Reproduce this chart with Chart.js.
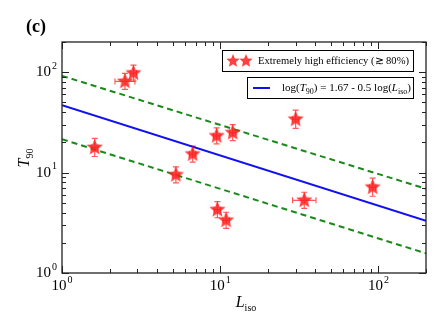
<!DOCTYPE html>
<html><head><meta charset="utf-8">
<script src="https://cdn.jsdelivr.net/npm/chart.js@4/dist/chart.umd.min.js"></script>
<style>html,body{margin:0;padding:0;background:#fff;}canvas{display:block;}</style>
</head><body>
<canvas id="c" width="443" height="332"></canvas>
<script>
// ---- data ----
const L_iso = [1.61, 2.5, 2.83, 5.25, 6.7, 9.5, 12.0, 9.6, 10.9, 30.0, 34.0, 92.0];
const T90   = [17.8, 81, 98, 9.5, 15.3, 23.2, 25.0, 4.27, 3.35, 34, 5.3, 7.15];
const T90_errDex = [0.09, 0.08, 0.08, 0.08, 0.08, 0.08, 0.08, 0.08, 0.08, 0.09, 0.08, 0.09];
const L_errDex   = [0.02, 0.063, 0.02, 0.02, 0.02, 0.02, 0.02, 0.02, 0.02, 0.02, 0.074, 0.02];
const fitX = [1, 200];
const fitY = [46.8, 3.31];
const upperY = [92, 6.9];
const lowerY = [21.5, 1.57];
const xTicks = [1, 10, 100];
const yTicks = [1, 10, 100];

const SERIF = '"Liberation Serif","Times New Roman",serif';
const starColor = 'rgba(255,30,30,0.85)';

function makeStar(r, color) {
  const c = document.createElement('canvas');
  const s = Math.ceil(r * 2 + 2);
  c.width = s; c.height = s;
  const g = c.getContext('2d');
  g.translate(s / 2, s / 2);
  g.beginPath();
  for (let i = 0; i < 10; i++) {
    const rad = i % 2 === 0 ? r : r * 0.45;
    const a = -Math.PI / 2 + i * Math.PI / 5;
    const px = rad * Math.cos(a), py = rad * Math.sin(a);
    if (i === 0) g.moveTo(px, py); else g.lineTo(px, py);
  }
  g.closePath();
  g.fillStyle = color;
  g.fill();
  return c;
}
const starImg = makeStar(8.5, starColor);
const starSmall = makeStar(7, starColor);

function drawPow(ctx, base, exp, x, y, align) {
  ctx.save();
  ctx.fillStyle = '#000';
  ctx.textBaseline = 'middle';
  ctx.font = '15px ' + SERIF;
  const wb = ctx.measureText(base).width;
  ctx.font = '10px ' + SERIF;
  const we = ctx.measureText(exp).width;
  const w = wb + we + 1;
  let x0 = x;
  if (align === 'right') x0 = x - w;
  else if (align === 'center') x0 = x - w / 2;
  ctx.textAlign = 'left';
  ctx.font = '15px ' + SERIF;
  ctx.fillText(base, x0, y);
  ctx.font = '10px ' + SERIF;
  ctx.fillText(exp, x0 + wb + 1, y - 6);
  ctx.restore();
}

function drawRich(ctx, parts, x, y) {
  let cx = x;
  for (const [t, s] of parts) {
    if (s === 'i') ctx.font = 'italic 11px ' + SERIF;
    else if (s === 'sub') ctx.font = '8px ' + SERIF;
    else ctx.font = '11px ' + SERIF;
    ctx.fillText(t, cx, s === 'sub' ? y + 3 : y);
    cx += ctx.measureText(t).width;
  }
  return cx - x;
}

const errorBars = {
  id: 'errorBars',
  beforeDatasetsDraw(chart) {
    const { ctx, scales: { x, y } } = chart;
    ctx.save();
    ctx.strokeStyle = 'rgba(255,60,60,0.85)';
    ctx.lineWidth = 1.2;
    for (let i = 0; i < L_iso.length; i++) {
      const px = x.getPixelForValue(L_iso[i]);
      const py = y.getPixelForValue(T90[i]);
      const yl = y.getPixelForValue(T90[i] / Math.pow(10, T90_errDex[i]));
      const yh = y.getPixelForValue(T90[i] * Math.pow(10, T90_errDex[i]));
      const xl = x.getPixelForValue(L_iso[i] / Math.pow(10, L_errDex[i]));
      const xh = x.getPixelForValue(L_iso[i] * Math.pow(10, L_errDex[i]));
      ctx.beginPath();
      ctx.moveTo(px, yl); ctx.lineTo(px, yh);
      ctx.moveTo(px - 3, yl); ctx.lineTo(px + 3, yl);
      ctx.moveTo(px - 3, yh); ctx.lineTo(px + 3, yh);
      ctx.moveTo(xl, py); ctx.lineTo(xh, py);
      ctx.moveTo(xl, py - 3); ctx.lineTo(xl, py + 3);
      ctx.moveTo(xh, py - 3); ctx.lineTo(xh, py + 3);
      ctx.stroke();
    }
    ctx.restore();
  }
};

const frame = {
  id: 'frame',
  afterDraw(chart) {
    const { ctx, chartArea: a, scales: { x, y } } = chart;
    ctx.save();
    ctx.strokeStyle = '#222';
    ctx.lineWidth = 1.3;
    ctx.strokeRect(a.left, a.top, a.right - a.left, a.bottom - a.top);
    ctx.lineWidth = 1;
    ctx.beginPath();
    for (let d = 0; d <= 2; d++) {
      for (let m = 1; m <= 9; m++) {
        const v = m * Math.pow(10, d);
        if (v < 1 || v > 200) continue;
        const px = Math.round(x.getPixelForValue(v)) + 0.5;
        const len = m === 1 ? 7 : 4;
        ctx.moveTo(px, a.bottom); ctx.lineTo(px, a.bottom - len);
        ctx.moveTo(px, a.top); ctx.lineTo(px, a.top + len);
      }
    }
    for (let d = 0; d <= 2; d++) {
      for (let m = 1; m <= 9; m++) {
        const v = m * Math.pow(10, d);
        if (v < 1 || v > 200) continue;
        const py = Math.round(y.getPixelForValue(v)) + 0.5;
        const len = m === 1 ? 7 : 4;
        ctx.moveTo(a.left, py); ctx.lineTo(a.left + len, py);
        ctx.moveTo(a.right, py); ctx.lineTo(a.right - len, py);
      }
    }
    ctx.stroke();
    xTicks.forEach(v => drawPow(ctx, '10', String(Math.round(Math.log10(v))), x.getPixelForValue(v), a.bottom + 13, 'center'));
    yTicks.forEach(v => drawPow(ctx, '10', String(Math.round(Math.log10(v))), a.left - 5, y.getPixelForValue(v), 'right'));

    ctx.fillStyle = '#000';
    ctx.textBaseline = 'alphabetic';
    ctx.font = 'italic 16px ' + SERIF;
    const wl = ctx.measureText('L').width;
    ctx.font = '10px ' + SERIF;
    const wi = ctx.measureText('iso').width;
    const xc = (a.left + a.right) / 2 + 2;
    const xs = xc - (wl + wi) / 2;
    ctx.font = 'italic 16px ' + SERIF;
    ctx.fillText('L', xs, 307);
    ctx.font = '10px ' + SERIF;
    ctx.fillText('iso', xs + wl, 311);
    ctx.save();
    ctx.translate(29, 158);
    ctx.rotate(-Math.PI / 2);
    ctx.font = 'italic 16px ' + SERIF;
    const wt = ctx.measureText('T').width;
    ctx.font = '10px ' + SERIF;
    const w9 = ctx.measureText('90').width;
    const ys = -(wt + w9) / 2;
    ctx.font = 'italic 16px ' + SERIF;
    ctx.fillText('T', ys, 0);
    ctx.font = '10px ' + SERIF;
    ctx.fillText('90', ys + wt, 4);
    ctx.restore();
    ctx.font = 'bold 18px ' + SERIF;
    ctx.fillText('(c)', 26, 32);

    // legend 1
    ctx.lineWidth = 1;
    ctx.strokeStyle = '#000';
    ctx.fillStyle = '#fff';
    ctx.fillRect(222.5, 50.5, 191, 21);
    ctx.strokeRect(222.5, 50.5, 191, 21);
    ctx.drawImage(starSmall, 233 - starSmall.width / 2, 61 - starSmall.height / 2);
    ctx.drawImage(starSmall, 246 - starSmall.width / 2, 61 - starSmall.height / 2);
    ctx.fillStyle = '#000';
    ctx.textBaseline = 'middle';
    ctx.font = '10.8px ' + SERIF;
    const t1 = 'Extremely high efficiency (\u2273 80%)';
    const tw = ctx.measureText(t1).width;
    const sc = Math.min(1, 151 / tw);
    ctx.save();
    ctx.translate(258, 61.5);
    ctx.scale(sc, 1);
    ctx.fillText(t1, 0, 0);
    ctx.restore();
    // legend 2
    ctx.fillStyle = '#fff';
    ctx.fillRect(247.5, 77.5, 166, 21);
    ctx.strokeRect(247.5, 77.5, 166, 21);
    ctx.strokeStyle = chart.data.datasets[1].borderColor;
    ctx.lineWidth = 2;
    ctx.beginPath(); ctx.moveTo(253, 88); ctx.lineTo(270, 88); ctx.stroke();
    ctx.fillStyle = '#000';
    drawRich(ctx, [['log(', 'n'], ['T', 'i'], ['90', 'sub'], [') = 1.67 - 0.5 log(', 'n'], ['L', 'i'], ['iso', 'sub'], [')', 'n']], 282, 88.5);
    ctx.restore();
  }
};

const pts = L_iso.map((v, i) => ({ x: v, y: T90[i] }));
const line = (ys) => fitX.map((v, i) => ({ x: v, y: ys[i] }));

new Chart(document.getElementById('c'), {
  type: 'scatter',
  data: {
    datasets: [
      { label: 'Extremely high efficiency (≳ 80%)', data: pts, pointStyle: starImg, pointRadius: 8, order: 0 },
      { label: 'fit', data: line(fitY), type: 'line', showLine: true, borderColor: '#1010f0', borderWidth: 2, pointRadius: 0, order: 3 },
      { label: 'upper', data: line(upperY), type: 'line', showLine: true, borderColor: '#1a8a1a', borderWidth: 2, borderDash: [6, 4], pointRadius: 0, order: 2 },
      { label: 'lower', data: line(lowerY), type: 'line', showLine: true, borderColor: '#1a8a1a', borderWidth: 2, borderDash: [6, 4], pointRadius: 0, order: 2 }
    ]
  },
  options: {
    responsive: false,
    animation: false,
    devicePixelRatio: 1,
    layout: { padding: { left: 62, top: 42, right: 17, bottom: 59 } },
    plugins: { legend: { display: false }, tooltip: { enabled: false } },
    scales: {
      x: { type: 'logarithmic', min: 1, max: 200, display: false },
      y: { type: 'logarithmic', min: 1, max: 200, display: false }
    }
  },
  plugins: [errorBars, frame]
});
</script>
</body></html>
